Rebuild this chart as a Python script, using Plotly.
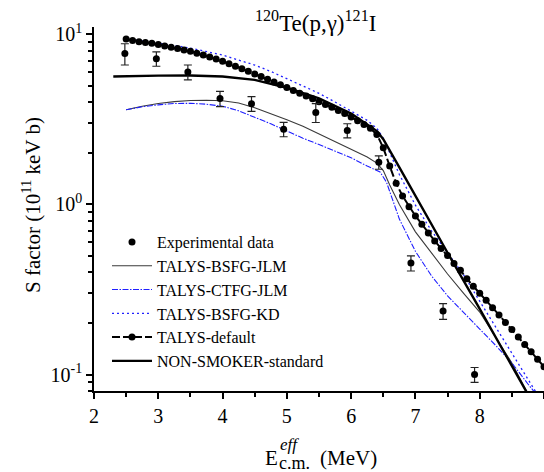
import plotly.graph_objects as go

# Experimental S factors (10^11 keV b) with uncertainties
exp_E = [2.48, 2.97, 3.46, 3.96, 4.45, 4.95, 5.45, 5.94, 6.43, 6.93, 7.43, 7.92]
exp_S = [7.7, 7.19, 6.0, 4.19, 3.91, 2.77, 3.47, 2.72, 1.77, 0.452, 0.236, 0.100]
exp_err = [1.1, 0.7, 0.6, 0.43, 0.39, 0.27, 0.44, 0.26, 0.16, 0.046, 0.025, 0.010]

# TALYS-BSFG-JLM
jlm_E = [2.5, 2.75, 3.0, 3.25, 3.5, 3.75, 4.0, 4.25, 4.5, 4.75, 5.0, 5.25, 5.5, 5.75,
         6.0, 6.25, 6.4, 6.5, 6.6, 6.75, 7.0, 7.25, 7.5, 7.75, 8.0, 8.25, 8.5, 8.75, 9.0]
jlm_S = [3.6, 3.78, 3.92, 4.02, 4.08, 4.1, 4.07, 3.95, 3.7, 3.42, 3.15, 2.88, 2.6, 2.35,
         2.12, 1.9, 1.75, 1.58, 1.3, 1.0, 0.69, 0.52, 0.39, 0.30, 0.233, 0.165, 0.117, 0.077, 0.052]

# TALYS-CTFG-JLM
ctfg_E = [2.5, 2.75, 3.0, 3.25, 3.5, 3.75, 4.0, 4.25, 4.5, 4.75, 5.0, 5.25, 5.5, 5.75,
          6.0, 6.25, 6.45, 6.55, 6.65, 6.75, 7.0, 7.25, 7.5, 7.75, 8.0, 8.25, 8.5, 8.75, 9.0]
ctfg_S = [3.6, 3.75, 3.85, 3.92, 3.93, 3.88, 3.78, 3.55, 3.25, 2.98, 2.7, 2.45, 2.25, 2.05,
          1.88, 1.68, 1.55, 1.35, 1.05, 0.82, 0.53, 0.38, 0.29, 0.23, 0.185, 0.148, 0.117, 0.088, 0.067]

# TALYS-BSFG-KD
kd_E = [2.5, 2.75, 3.0, 3.25, 3.5, 3.75, 4.0, 4.25, 4.5, 4.75, 5.0, 5.25, 5.5, 5.75,
        6.0, 6.25, 6.4, 6.5, 6.75, 7.0, 7.25, 7.5, 7.75, 8.0, 8.25, 8.5, 8.75, 9.0]
kd_S = [9.4, 9.15, 8.9, 8.6, 8.3, 7.95, 7.55, 7.05, 6.6, 6.05, 5.5, 5.0, 4.5, 4.0,
        3.55, 3.12, 2.8, 2.45, 1.5, 0.99, 0.70, 0.52, 0.385, 0.27, 0.19, 0.135, 0.095, 0.066]

# TALYS-default, tabulated every 0.1 MeV
def_E = [2.5, 2.6, 2.7, 2.8, 2.9, 3.0, 3.1, 3.2, 3.3, 3.4, 3.5, 3.6, 3.7, 3.8, 3.9,
         4.0, 4.1, 4.2, 4.3, 4.4, 4.5, 4.6, 4.7, 4.8, 4.9, 5.0, 5.1, 5.2, 5.3, 5.4,
         5.5, 5.6, 5.7, 5.8, 5.9, 6.0, 6.1, 6.2, 6.3, 6.4, 6.5, 6.6, 6.7, 6.8, 6.9,
         7.0, 7.1, 7.2, 7.3, 7.4, 7.5, 7.6, 7.7, 7.8, 7.9, 8.0, 8.1, 8.2, 8.3, 8.4,
         8.5, 8.6, 8.7, 8.8, 8.9, 9.0]
def_S = [9.4, 9.2, 9.05, 8.95, 8.85, 8.7, 8.55, 8.4, 8.25, 8.1, 7.95, 7.75, 7.55, 7.35, 7.15,
         6.95, 6.72, 6.5, 6.28, 6.06, 5.85, 5.64, 5.44, 5.24, 5.05, 4.87, 4.68, 4.5, 4.34, 4.18,
         4.02, 3.87, 3.72, 3.56, 3.42, 3.27, 3.1, 2.95, 2.8, 2.58, 2.15, 1.68, 1.33, 1.12, 0.97,
         0.855, 0.765, 0.68, 0.61, 0.55, 0.50, 0.45, 0.41, 0.365, 0.33, 0.30, 0.273, 0.247, 0.224, 0.202,
         0.184, 0.166, 0.15, 0.136, 0.123, 0.111]

# NON-SMOKER standard
ns_E = [2.3, 2.5, 3.0, 3.5, 4.0, 4.5, 5.0, 5.5, 6.0, 6.4, 6.5, 6.75, 7.0, 7.25, 7.5, 8.0, 8.5, 9.0]
ns_S = [5.65, 5.68, 5.72, 5.73, 5.65, 5.4, 4.85, 4.2, 3.42, 2.7, 2.42, 1.65, 1.12, 0.76, 0.52, 0.243, 0.112, 0.052]

x_ticks = [2, 3, 4, 5, 6, 7, 8, 9]
y_major = [0.1, 1, 10]
y_major_text = ["10<sup>-1</sup>", "10<sup>0</sup>", "10<sup>1</sup>"]
y_minor = [0.08, 0.09, 0.2, 0.3, 0.4, 0.5, 0.6, 0.7, 0.8, 0.9,
           2, 3, 4, 5, 6, 7, 8, 9]

FONT = "Liberation Serif"

fig = go.Figure()

fig.add_trace(go.Scatter(
    x=jlm_E, y=jlm_S, mode="lines", name="TALYS-BSFG-JLM", legendrank=2,
    line=dict(color="#3a3a3a", width=1.1)))
fig.add_trace(go.Scatter(
    x=ctfg_E, y=ctfg_S, mode="lines", name="TALYS-CTFG-JLM", legendrank=3,
    line=dict(color="#1f1fff", width=1.1, dash="6px,1.5px,1.5px,1.5px")))
fig.add_trace(go.Scatter(
    x=kd_E, y=kd_S, mode="lines", name="TALYS-BSFG-KD", legendrank=4,
    line=dict(color="#2020ff", width=1.3, dash="2px,3px")))
fig.add_trace(go.Scatter(
    x=def_E, y=def_S, mode="lines+markers", name="TALYS-default", legendrank=5,
    line=dict(color="black", width=2, dash="8px,3px"),
    marker=dict(color="black", size=7, symbol="circle")))
fig.add_trace(go.Scatter(
    x=ns_E, y=ns_S, mode="lines", name="NON-SMOKER-standard", legendrank=6,
    line=dict(color="black", width=2.4)))
fig.add_trace(go.Scatter(
    x=exp_E, y=exp_S, mode="markers", name="Experimental data", legendrank=1,
    marker=dict(color="black", size=7, symbol="circle"),
    error_y=dict(type="data", array=exp_err, visible=True,
                 color="#222222", thickness=1.2, width=4)))

# pixel -> paper helpers for the 544x472 layout
L, R, T, B = 94, 0, 27, 81
W, H = 544, 472
PW, PH = W - L - R, H - T - B


def px(x):
    return (x - L) / PW


def py(y):
    return (H - B - y) / PH


annotations = [
    dict(text="<sup>120</sup>Te(p,γ)<sup>121</sup>I", x=px(315), y=py(21),
         font=dict(size=23)),
    dict(text="S factor (10<sup>11</sup> keV b)", x=px(31), y=py(205),
         textangle=-90, font=dict(size=21)),
    dict(text="E", x=px(271), y=py(458), font=dict(size=21)),
    dict(text="<i>eff</i>", x=px(278), y=py(445), xanchor="left", font=dict(size=17)),
    dict(text="c.m.", x=px(277), y=py(463), xanchor="left", font=dict(size=18)),
    dict(text="(MeV)", x=px(318), y=py(458), xanchor="left", font=dict(size=21)),
]
for a in annotations:
    a.update(xref="paper", yref="paper", showarrow=False)
    a.setdefault("xanchor", "center")
    a.setdefault("yanchor", "middle")
    a["font"].update(family=FONT, color="black")

fig.update_layout(
    width=W, height=H,
    margin=dict(l=L, r=R, t=T, b=B, pad=0),
    paper_bgcolor="white", plot_bgcolor="white",
    font=dict(family=FONT, color="black", size=20),
    showlegend=True,
    legend=dict(x=px(107), y=py(225), xanchor="left", yanchor="top",
                bgcolor="rgba(0,0,0,0)", font=dict(size=16, family=FONT, color="black"),
                itemwidth=40, tracegroupgap=0, traceorder="normal"),
    annotations=annotations,
    xaxis=dict(range=[2, 9], tickvals=x_ticks, ticks="outside", ticklen=6, tickwidth=1.5,
               tickcolor="black", showline=True, linecolor="black", linewidth=1.6,
               showgrid=False, zeroline=False, tickfont=dict(size=20, family=FONT),
               minor=dict(dtick=0.5, ticks="outside", ticklen=4, tickwidth=1.5,
                          tickcolor="black", showgrid=False)),
    yaxis=dict(type="log", range=[-1.0969, 1.043], tickvals=y_major, ticktext=y_major_text,
               ticks="outside", ticklen=6, tickwidth=1.5, tickcolor="black",
               showline=True, linecolor="black", linewidth=1.6,
               showgrid=False, zeroline=False, tickfont=dict(size=20, family=FONT),
               minor=dict(tickmode="array", tickvals=y_minor, ticks="outside", ticklen=4,
                          tickwidth=1.5, tickcolor="black", showgrid=False)),
)

fig.write_html("out.html")
